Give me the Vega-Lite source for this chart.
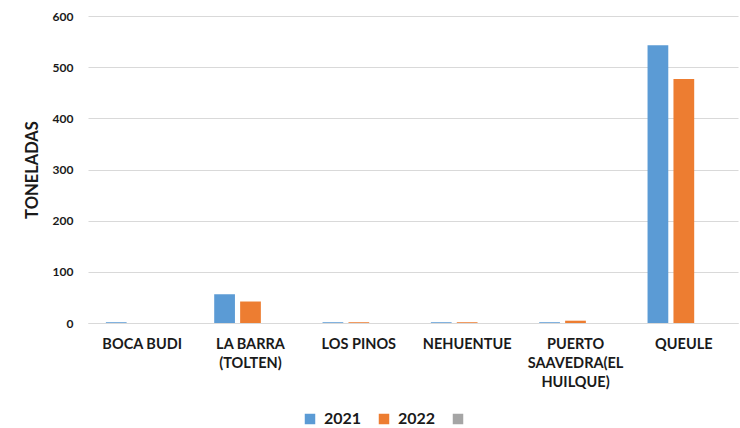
{
  "$schema": "https://vega.github.io/schema/vega-lite/v6.json",
  "autosize": {"type": "none"},
  "padding": {"left": 88, "top": 16, "right": 2, "bottom": 105},
  "width": 650,
  "height": 307,
  "background": "white",
  "config": {
    "font": "Lato",
    "view": {"stroke": null}
  },
  "data": {
    "values": [
      {"sitio": "BOCA BUDI", "anio": "2021", "toneladas": 1.5},
      {"sitio": "BOCA BUDI", "anio": "2022", "toneladas": 0},
      {"sitio": "LA BARRA|(TOLTEN)", "anio": "2021", "toneladas": 56},
      {"sitio": "LA BARRA|(TOLTEN)", "anio": "2022", "toneladas": 42},
      {"sitio": "LOS PINOS", "anio": "2021", "toneladas": 1.5},
      {"sitio": "LOS PINOS", "anio": "2022", "toneladas": 1.5},
      {"sitio": "NEHUENTUE", "anio": "2021", "toneladas": 1.5},
      {"sitio": "NEHUENTUE", "anio": "2022", "toneladas": 1.5},
      {"sitio": "PUERTO|SAAVEDRA(EL|HUILQUE)", "anio": "2021", "toneladas": 1.5},
      {"sitio": "PUERTO|SAAVEDRA(EL|HUILQUE)", "anio": "2022", "toneladas": 4.5},
      {"sitio": "QUEULE", "anio": "2021", "toneladas": 543},
      {"sitio": "QUEULE", "anio": "2022", "toneladas": 477}
    ]
  },
  "mark": {"type": "bar"},
  "encoding": {
    "x": {
      "field": "sitio",
      "type": "nominal",
      "sort": null,
      "scale": {"paddingInner": 0.33, "paddingOuter": 0.165},
      "axis": {
        "title": null,
        "labelAngle": 0,
        "labelExpr": "split(datum.label, '|')",
        "labelFont": "Lato",
        "labelFontWeight": "bold",
        "labelFontSize": 14.5,
        "labelColor": "#1a1a1a",
        "labelPadding": 14,
        "labelLineHeight": 19,
        "labelBaseline": "top",
        "ticks": false,
        "domainColor": "#D9D9D9",
        "domainWidth": 1
      }
    },
    "xOffset": {
      "field": "anio",
      "type": "nominal",
      "scale": {"domain": ["2021", "2022", " "], "paddingInner": 0.2}
    },
    "y": {
      "field": "toneladas",
      "type": "quantitative",
      "scale": {"domain": [0, 600]},
      "axis": {
        "title": "TONELADAS",
        "titleFont": "Lato",
        "titleFontWeight": "bold",
        "titleFontSize": 16.5,
        "titleColor": "#1a1a1a",
        "titlePadding": 12,
        "values": [0, 100, 200, 300, 400, 500, 600],
        "labelFont": "Lato",
        "labelFontWeight": "bold",
        "labelFontSize": 12,
        "labelColor": "#1a1a1a",
        "labelPadding": 15,
        "ticks": false,
        "domain": false,
        "gridColor": "#D9D9D9",
        "gridWidth": 1
      }
    },
    "color": {
      "field": "anio",
      "type": "nominal",
      "scale": {"domain": ["2021", "2022", " "], "range": ["#5B9BD5", "#ED7D31", "#A5A5A5"]},
      "legend": {
        "title": null,
        "orient": "none",
        "direction": "horizontal",
        "legendX": 214,
        "legendY": 395,
        "symbolType": "square",
        "symbolSize": 110,
        "symbolStrokeWidth": 0,
        "labelFont": "Lato",
        "labelFontWeight": "bold",
        "labelFontSize": 16,
        "labelColor": "#1a1a1a",
        "columnPadding": 14,
        "labelOffset": 6
      }
    }
  }
}
